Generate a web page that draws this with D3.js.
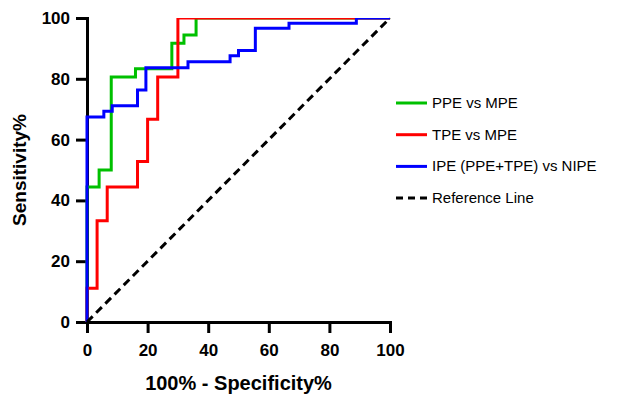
<!DOCTYPE html>
<html>
<head>
<meta charset="utf-8">
<script src="https://cdn.jsdelivr.net/npm/d3@7"></script>
<style>
  body { margin: 0; background: #fff; }
  svg { font-family: "Liberation Sans", Arial, sans-serif; }
</style>
</head>
<body>
<div id="chart"></div>
<script>
// ROC corner points (100% - specificity, sensitivity)
const ppeFpr = [0, 0, 4, 8, 16, 28, 32, 36, 100];
const ppeTpr = [0, 44.4, 50, 80.6, 83.3, 91.7, 94.4, 100, 100];
const tpeFpr = [0, 0, 3.33, 6.67, 16.67, 20, 23.33, 30, 100];
const tpeTpr = [0, 11.1, 33.3, 44.4, 52.8, 66.7, 80.6, 100, 100];
const ipeFpr = [0, 0, 5.56, 8.33, 16.67, 19.44, 33.33, 47.22, 50, 55.56, 66.67, 88.89, 100];
const ipeTpr = [0, 67.4, 69.3, 71.1, 76.3, 83.6, 85.6, 87.6, 89.3, 96.6, 98.3, 100, 100];
const refLine = [0, 100];

const seriesNames = ["PPE vs MPE", "TPE vs MPE", "IPE (PPE+TPE) vs NIPE", "Reference Line"];
const xTicks = [0, 20, 40, 60, 80, 100];
const yTicks = [0, 20, 40, 60, 80, 100];

const margin = {top: 18, right: 240, bottom: 75, left: 87},
    width = 630 - margin.left - margin.right,
    height = 397 - margin.top - margin.bottom;

const svg = d3.select("#chart").append("svg")
    .attr("width", 630)
    .attr("height", 397)
    .append("g")
    .attr("transform", "translate(" + margin.left + "," + margin.top + ")");

const x = d3.scaleLinear().domain([0, 100]).range([0, width]);
const y = d3.scaleLinear().domain([0, 100]).range([height, 0]);

// axes
const gX = svg.append("g")
    .attr("transform", "translate(0," + height + ")")
    .call(d3.axisBottom(x).tickValues(xTicks).tickSize(11).tickPadding(11));
const gY = svg.append("g")
    .call(d3.axisLeft(y).tickValues(yTicks).tickSize(11).tickPadding(6));
[gX, gY].forEach(g => {
    g.select(".domain").attr("stroke", "#000").attr("stroke-width", 3);
    g.selectAll(".tick line").attr("stroke", "#000").attr("stroke-width", 3);
    g.selectAll(".tick text")
        .attr("fill", "#000")
        .style("font-size", "17px")
        .style("font-weight", "bold")
        .style("font-family", "'Liberation Sans', Arial, sans-serif");
});

// axis titles
svg.append("text")
    .attr("text-anchor", "middle")
    .attr("x", width / 2)
    .attr("y", height + 68)
    .style("font-size", "20px")
    .style("font-weight", "bold")
    .text("100% - Specificity%");
svg.append("text")
    .attr("text-anchor", "middle")
    .attr("transform", "rotate(-90)")
    .attr("x", -height / 2)
    .attr("y", -61)
    .style("font-size", "19px")
    .style("font-weight", "bold")
    .text("Sensitivity%");

// clip the top edge so lines at 100% look half width
svg.append("clipPath").attr("id", "plotclip")
    .append("rect")
    .attr("x", -10).attr("y", y(100))
    .attr("width", width + 20).attr("height", height + 10);

const line = d3.line()
    .x(d => x(d[0]))
    .y(d => y(d[1]))
    .curve(d3.curveStepAfter);

const curves = [
    {fpr: ppeFpr, tpr: ppeTpr, color: "#00c000"},
    {fpr: tpeFpr, tpr: tpeTpr, color: "#ff0000"},
    {fpr: ipeFpr, tpr: ipeTpr, color: "#0000ff"}
];

const plot = svg.append("g").attr("clip-path", "url(#plotclip)");
curves.forEach(c => {
    plot.append("path")
        .datum(d3.zip(c.fpr, c.tpr))
        .attr("fill", "none")
        .attr("stroke", c.color)
        .attr("stroke-width", 3)
        .attr("d", line);
});

// reference diagonal
svg.append("path")
    .datum(d3.zip(refLine, refLine))
    .attr("fill", "none")
    .attr("stroke", "#000")
    .attr("stroke-width", 3)
    .attr("stroke-dasharray", "8,5")
    .attr("d", d3.line().x(d => x(d[0])).y(d => y(d[1])));

// legend
const legendColors = ["#00c000", "#ff0000", "#0000ff", "#000"];
const legend = svg.append("g")
    .attr("transform", "translate(" + (width + 6) + ",85)");
seriesNames.forEach((name, i) => {
    const gy = i * 31.7;
    legend.append("line")
        .attr("x1", 0).attr("x2", 31)
        .attr("y1", gy).attr("y2", gy)
        .attr("stroke", legendColors[i])
        .attr("stroke-width", 3)
        .attr("stroke-dasharray", i === 3 ? "7,5" : null);
    legend.append("text")
        .attr("x", 36)
        .attr("y", gy + 5)
        .style("font-size", "15px")
        .text(name);
});
</script>
</body>
</html>
